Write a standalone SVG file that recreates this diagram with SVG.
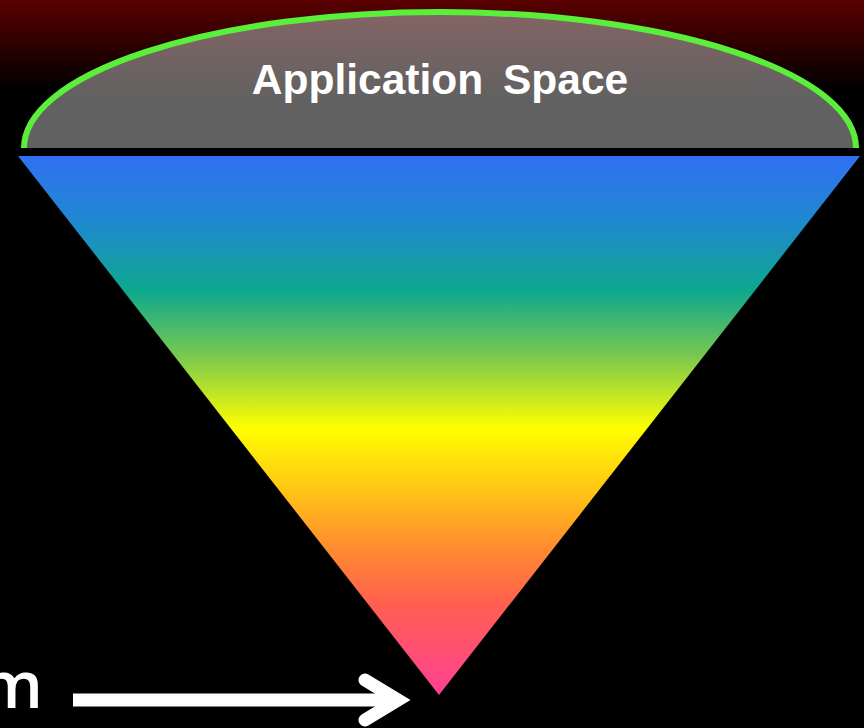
<svg xmlns="http://www.w3.org/2000/svg" width="864" height="728" viewBox="0 0 864 728">
<defs>
<linearGradient id="bg" x1="0" y1="0" x2="0" y2="90" gradientUnits="userSpaceOnUse">
<stop offset="0" stop-color="#5A0000"/>
<stop offset="1" stop-color="#000000"/>
</linearGradient>
<linearGradient id="dome" x1="0" y1="12" x2="0" y2="100" gradientUnits="userSpaceOnUse">
<stop offset="0" stop-color="#846464"/>
<stop offset="1" stop-color="#616161"/>
</linearGradient>
<linearGradient id="cone" x1="0" y1="156" x2="0" y2="695" gradientUnits="userSpaceOnUse">
<stop offset="0" stop-color="#3070F2"/>
<stop offset="0.12" stop-color="#2088D0"/>
<stop offset="0.25" stop-color="#0EA88E"/>
<stop offset="0.37" stop-color="#78C850"/>
<stop offset="0.505" stop-color="#FFFF00"/>
<stop offset="0.63" stop-color="#FFC018"/>
<stop offset="0.73" stop-color="#FF8A30"/>
<stop offset="0.83" stop-color="#FF6050"/>
<stop offset="1" stop-color="#FF4094"/>
</linearGradient>
<style>
.lbl{font-family:"Liberation Sans",Arial,sans-serif;font-weight:bold;fill:#ffffff}
.arrow{stroke:#ffffff;fill:none;stroke-width:13}
</style>
</defs>
<rect x="0" y="0" width="864" height="728" fill="#000000"/>
<rect x="0" y="0" width="864" height="90" fill="url(#bg)"/>
<g id="application-space">
<path d="M 24 148 A 416 136 0 0 1 856 148 Z" fill="url(#dome)" stroke="none"/>
<path d="M 24 148 A 416 136 0 0 1 856 148" fill="none" stroke="#5AF03A" stroke-width="6"/>
<text class="lbl" x="440" y="94" font-size="42.5" text-anchor="middle" word-spacing="8">Application Space</text>
</g>
<g id="cone-node">
<polygon points="18,156 860,156 439,695" fill="url(#cone)"/>
</g>
<g id="label-m">
<text x="43" y="708" font-family="'Open Sans','Liberation Sans',sans-serif" font-weight="600" font-size="66" fill="#ffffff" text-anchor="end">m</text>
</g>
<g id="connectors">
<line class="arrow" x1="73" y1="700" x2="398" y2="700" stroke-linecap="butt" stroke-width="12"/>
<polyline class="arrow" points="365,680 398,700 365,720" stroke-linecap="round" stroke-linejoin="miter" stroke-miterlimit="10"/>
</g>
</svg>
